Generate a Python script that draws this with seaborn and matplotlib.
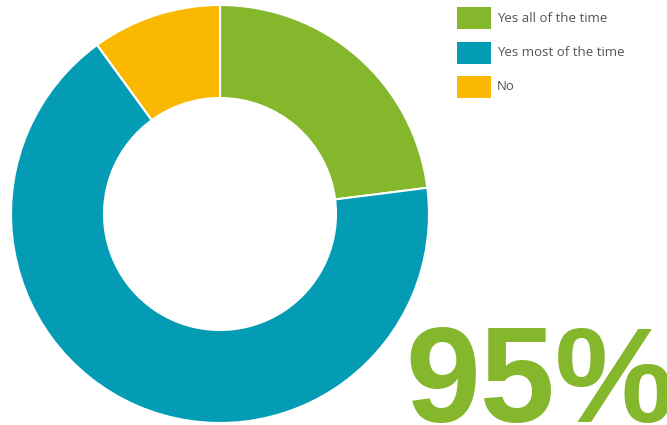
import matplotlib
matplotlib.use("Agg")
import matplotlib.pyplot as plt
import seaborn as sns
from matplotlib.patches import Rectangle

# Survey answers and their shares (percent)
categories = ["Yes all of the time", "Yes most of the time", "No"]
shares = [23, 67, 10]
colors = ["#85B72C", "#049BB5", "#FAB900"]
headline = "95%"

sns.set_theme(style="white")
plt.rcParams["font.family"] = ["Open Sans", "DejaVu Sans"]
palette = sns.color_palette(colors)

W, H = 667, 425
fig = plt.figure(figsize=(W / 100, H / 100), dpi=100)
fig.patch.set_facecolor("white")

# Donut chart, starting at 12 o'clock and running clockwise
ax = fig.add_axes([11 / W, 2 / H, 418 / W, 418 / H])
ax.pie(
    shares,
    colors=palette,
    startangle=90,
    counterclock=False,
    radius=1.0,
    wedgeprops=dict(width=0.445, edgecolor="white", linewidth=1.5),
)
ax.set_xlim(-1, 1)
ax.set_ylim(-1, 1)
ax.set_aspect("equal")
ax.axis("off")

# Legend: colour swatches with labels, stacked top-right
sw_x, sw_w, sw_h = 457, 34, 22
row_top = [7, 42, 76]
for top, label, col in zip(row_top, categories, palette):
    fig.add_artist(Rectangle((sw_x / W, 1 - (top + sw_h) / H), sw_w / W, sw_h / H,
                             transform=fig.transFigure, facecolor=col,
                             edgecolor="none"))
    fig.text((sw_x + sw_w + 6) / W, 1 - (top + sw_h / 2) / H, label,
             fontsize=9.5, color="#555555", ha="left", va="center")

# Large headline figure
fig.text(405 / W, 3 / H, headline, fontsize=97, fontweight="bold",
         family=["Liberation Sans", "DejaVu Sans"],
         color=colors[0], ha="left", va="baseline")

fig.savefig("out.png", dpi=100, facecolor="white")
